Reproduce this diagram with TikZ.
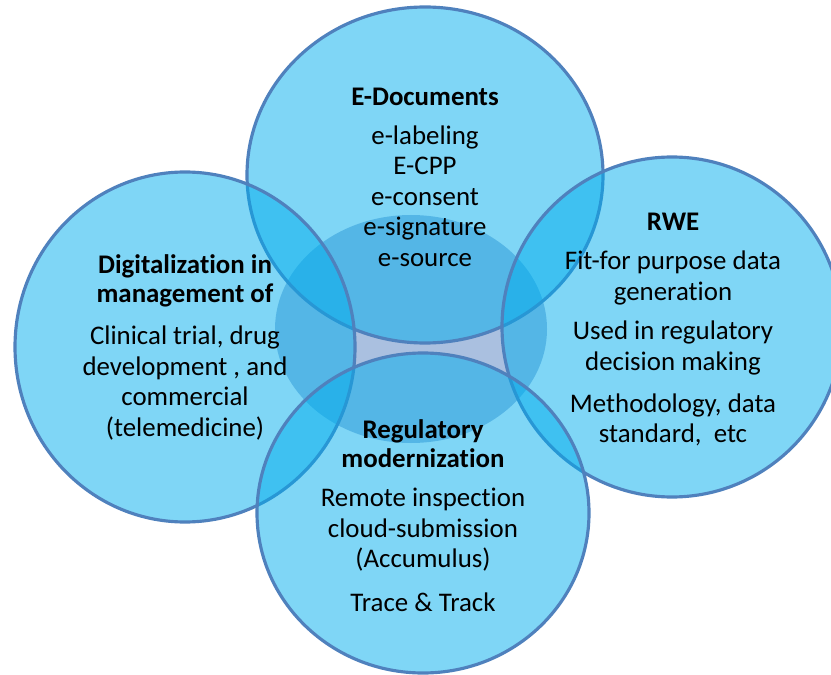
\documentclass[tikz,border=0pt]{standalone}
\usepackage{fontspec}
\setmainfont[Ligatures=NoCommon]{Carlito}
\usetikzlibrary{positioning}

\definecolor{ringline}{RGB}{79,129,189}
\definecolor{ringfill}{RGB}{0,173,237}
\definecolor{hubfill}{RGB}{170,192,224}

\tikzset{
  ring/.style={draw=ringline,line width=1.8pt,fill=ringfill,fill opacity=0.5},
  head/.style={font=\fontsize{15.3}{16.5}\selectfont\bfseries,align=center,inner sep=0pt},
  body/.style={font=\fontsize{15.3}{17.3}\selectfont,align=center,inner sep=0pt}
}

\begin{document}
\begin{tikzpicture}[x=0.02cm,y=-0.02cm]

 \useasboundingbox (0,0) rectangle (831,675);
 \clip (0,0) rectangle (831,675);

 \coordinate (M) at (411,329);
 \coordinate (T) at (425,175);
 \coordinate (L) at (185,347);
 \coordinate (R) at (672,327);
 \coordinate (B) at (423,513);

\fill[hubfill] (M) ellipse [x radius=136, y radius=114];
\filldraw[ring] (T) ellipse [x radius=178, y radius=168];
\filldraw[ring] (L) ellipse [x radius=170, y radius=175];
\filldraw[ring] (R) ellipse [x radius=170, y radius=170];
\filldraw[ring] (B) ellipse [x radius=166, y radius=160];

\node (Thead) at (425,97) [head] {E-Documents};
\node (Tbody) at (425,196) [body] {e-labeling\\E-CPP\\e-consent\\e-signature\\e-source};

\node (Lhead) at (185,281) [head] {Digitalization in\\management of};
\node (Lbody) at (185,383) [body] {Clinical trial, drug\\development , and\\commercial\\(telemedicine)};

\node (Rhead) at (673,222) [head] {RWE};
\node (Rfit) at (673,278) [body] {Fit-for purpose data\\generation};
\node (Ruse) at (673,348) [body] {Used in regulatory\\decision making};
\node (Rmeth) at (673,420) [body] {Methodology, data\\standard,\ \ etc};

\node (Bhead) at (423,444) [head] {Regulatory\\modernization};
\node (Bbody) at (423,530) [body] {Remote inspection\\cloud-submission\\(Accumulus)};
\node (Btrace) at (423,602) [body] {Trace \& Track};

\end{tikzpicture}
\end{document}
